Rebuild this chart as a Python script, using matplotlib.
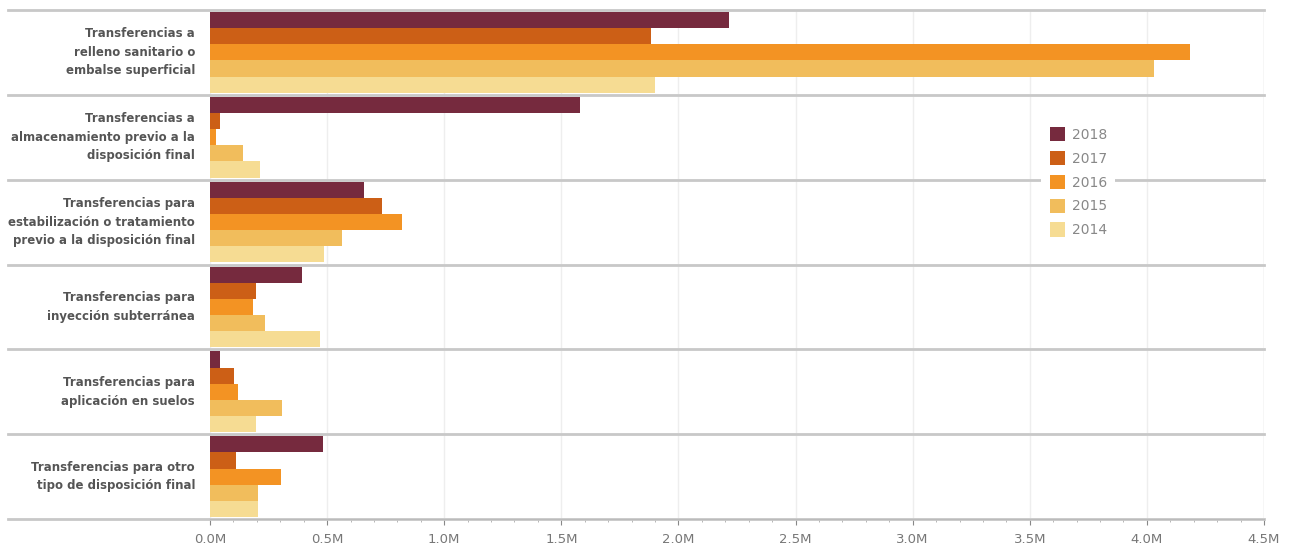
import matplotlib.pyplot as plt
import numpy as np
from matplotlib.patches import Patch

# waste transfers by disposal type, in millions
categories = [
    "Transferencias a\nrelleno sanitario o\nembalse superficial",
    "Transferencias a\nalmacenamiento previo a la\ndisposición final",
    "Transferencias para\nestabilización o tratamiento\nprevio a la disposición final",
    "Transferencias para\ninyección subterránea",
    "Transferencias para\naplicación en suelos",
    "Transferencias para otro\ntipo de disposición final",
]
years = ["2018", "2017", "2016", "2015", "2014"]
v2018 = [2.216, 1.580, 0.658, 0.393, 0.043, 0.483]
v2017 = [1.883, 0.043, 0.734, 0.196, 0.102, 0.111]
v2016 = [4.184, 0.026, 0.820, 0.184, 0.120, 0.303]
v2015 = [4.031, 0.141, 0.564, 0.235, 0.307, 0.205]
v2014 = [1.900, 0.213, 0.487, 0.470, 0.196, 0.205]
series = [v2018, v2017, v2016, v2015, v2014]
colors = ["#762a3e", "#cc5f16", "#f39323", "#f1bd5c", "#f6dc93"]

fig = plt.figure(figsize=(12.9, 5.48), dpi=100)
ax = fig.add_axes([210 / 1290, 1 - 519 / 548, 1054 / 1290, 509 / 548])

y = np.arange(len(categories))
h = 0.19
for k, (vals, c) in enumerate(zip(series, colors)):
    ax.barh(y + (k - 2) * h, vals, height=h, color=c, zorder=3)

ax.set_ylim(len(categories) - 0.5, -0.5)
ax.set_xlim(0, 4.5)
ax.set_xticks(np.arange(0, 4.51, 0.5))
ax.set_xticks(np.arange(0, 4.51, 0.1), minor=True)
ax.set_xticklabels([f"{t:.1f}M" for t in np.arange(0, 4.51, 0.5)])
ax.tick_params(axis="x", which="major", length=4, color="#888", labelsize=9.5,
               labelcolor="#777", pad=6)
ax.tick_params(axis="x", which="minor", length=2, color="#aaa")
ax.set_yticks([])
for s in ["top", "left", "right"]:
    ax.spines[s].set_visible(False)
ax.spines["bottom"].set_color("#bbb")
ax.grid(axis="x", color="#eeeeee", linewidth=1, zorder=0)
ax.axvline(4.5, color="#e4e4e4", linewidth=1, zorder=0)

# band separators run across the label area too
trans = ax.get_yaxis_transform()
x0 = -(210 - 8) / 1054
for b in np.arange(-0.5, len(categories) + 0.5, 1.0):
    ax.plot([x0, 1], [b, b], transform=trans, color="#c8c8c8", linewidth=2,
            clip_on=False, zorder=2)

for i, lab in enumerate(categories):
    ax.text(-15 / 1054, i, lab, transform=trans, ha="right", va="center",
            fontsize=8.5, color="#555", fontweight="semibold", linespacing=1.55)

handles = [Patch(facecolor=c, label=yr) for yr, c in zip(years, colors)]
leg = ax.legend(handles=handles, loc="upper left", bbox_to_anchor=(0.782, 0.80),
                frameon=True, facecolor="white", edgecolor="none", framealpha=1,
                fontsize=10, handlelength=1.1, handleheight=1.2, handletextpad=0.5,
                labelspacing=0.65, borderpad=0.6)
for t in leg.get_texts():
    t.set_color("#888")
leg.set_zorder(5)

fig.savefig("out.png", dpi=100)
